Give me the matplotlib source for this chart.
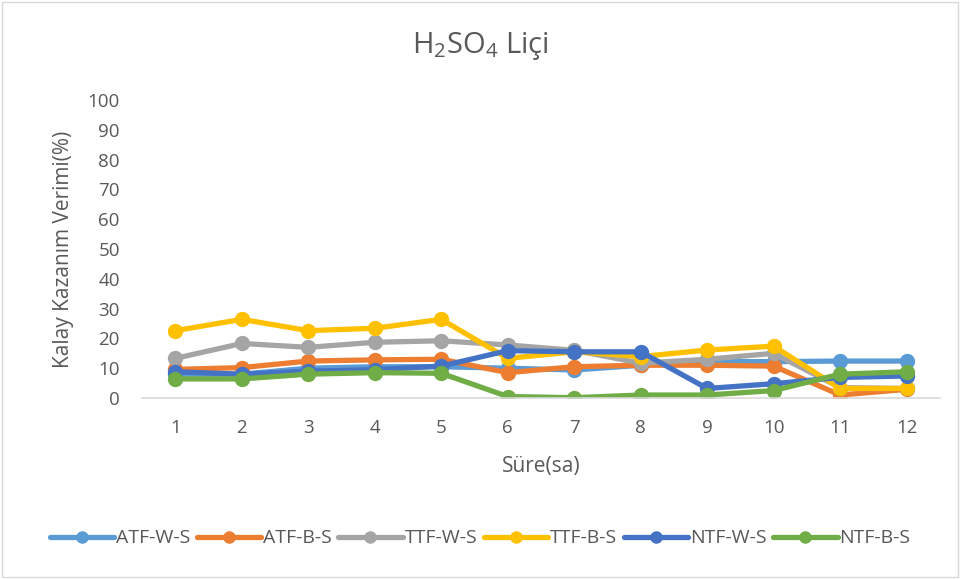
import matplotlib
matplotlib.use('Agg')
import matplotlib.pyplot as plt
from matplotlib.patches import Rectangle

plt.rcParams['font.family'] = ['Open Sans', 'DejaVu Sans']

hours = [1, 2, 3, 4, 5, 6, 7, 8, 9, 10, 11, 12]
atf_w_s = [8.0, 8.0, 10.0, 10.5, 10.5, 10.0, 9.4, 11.0, 12.2, 12.2, 12.4, 12.4]
atf_b_s = [9.6, 10.2, 12.4, 12.8, 13.0, 8.5, 10.5, 11.0, 11.0, 10.7, 1.0, 2.9]
ttf_w_s = [13.3, 18.3, 17.0, 18.7, 19.2, 17.8, 16.0, 11.7, 13.0, 15.0, 3.5, 3.2]
ttf_b_s = [22.6, 26.4, 22.6, 23.4, 26.4, 13.3, 15.5, 13.9, 16.1, 17.4, 3.2, 3.2]
ntf_w_s = [8.8, 8.0, 9.0, 9.5, 10.7, 15.9, 15.5, 15.5, 3.2, 4.8, 6.9, 7.4]
ntf_b_s = [6.4, 6.4, 8.0, 8.5, 8.3, 0.5, 0.1, 1.0, 1.0, 2.5, 8.0, 8.8]

series = [('ATF-W-S', atf_w_s, '#5B9BD5'),
          ('ATF-B-S', atf_b_s, '#ED7D31'),
          ('TTF-W-S', ttf_w_s, '#A5A5A5'),
          ('TTF-B-S', ttf_b_s, '#FFC000'),
          ('NTF-W-S', ntf_w_s, '#4472C4'),
          ('NTF-B-S', ntf_b_s, '#70AD47')]

txt = '#595959'
fig = plt.figure(figsize=(9.6, 5.79), dpi=100)
ax = fig.add_axes([0.148, 0.3126, 0.831, 0.5147])

for name, vals, col in series:
    ax.plot(hours, vals, color=col, lw=3.8, marker='o', ms=10,
            label=name, solid_capstyle='round')

ax.set_xlim(0.5, 12.5)
ax.set_ylim(0, 100)
ax.set_xticks(hours)
ax.set_yticks(range(0, 101, 10))
ax.tick_params(length=0, labelsize=13.5, colors=txt)
ax.tick_params(axis='x', pad=15)
ax.tick_params(axis='y', pad=16)
for s in ['top', 'right', 'left']:
    ax.spines[s].set_visible(False)
ax.spines['bottom'].set_color('#D9D9D9')
ax.spines['bottom'].set_linewidth(1.2)

ax.set_xlabel('Süre(sa)', fontsize=15, color=txt, labelpad=14)
ax.set_ylabel('Kalay Kazanım Verimi(%)', fontsize=15, color=txt, labelpad=10)
fig.text(0.5, 0.92, r'$\mathregular{H_2SO_4}$ Liçi', ha='center', va='center',
         fontsize=21, color=txt)

ax.legend(loc='center', bbox_to_anchor=(0.5, 0.07), bbox_transform=fig.transFigure,
          ncol=6, frameon=False, fontsize=14, labelcolor=txt, handlelength=3.3,
          columnspacing=0.35, handletextpad=0.1, markerscale=0.8)

fig.patches.append(Rectangle((0.002, 0.003), 0.996, 0.994, transform=fig.transFigure,
                             fill=False, edgecolor='#D9D9D9', lw=1))

fig.savefig('out.png', dpi=100)
